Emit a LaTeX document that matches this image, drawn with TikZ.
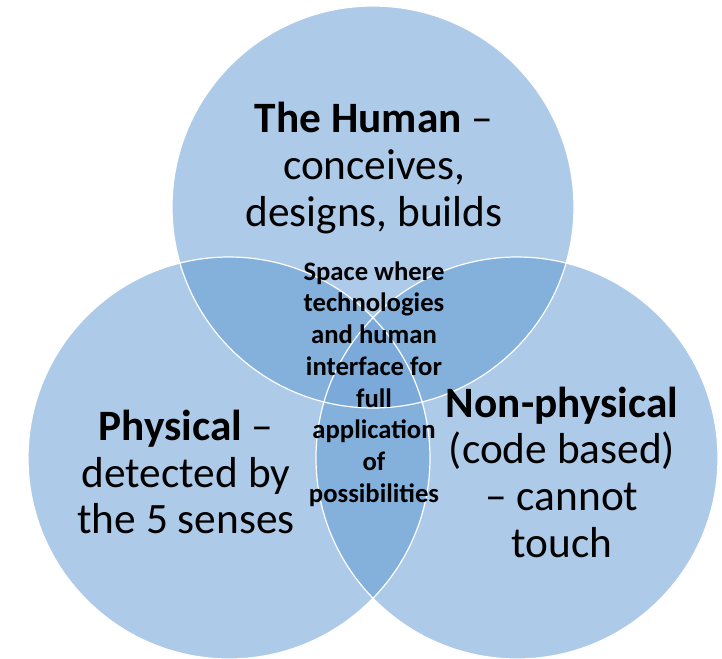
\documentclass[tikz,border=0pt]{standalone}
\usepackage{fontspec}
\setmainfont{Carlito}
\definecolor{vsingle}{HTML}{ADCBE9}
\definecolor{vdouble}{HTML}{84B0DC}
\definecolor{vtriple}{HTML}{7BAADA}
\tikzset{
  maintext/.style={align=center, text=black, font=\fontsize{32.5}{35}\selectfont, inner sep=0pt},
  centertext/.style={align=center, text=black, font=\bfseries\fontsize{20}{23.8}\selectfont, inner sep=0pt},
  rim/.style={draw=white, line width=0.9pt}
}
\begin{document}
\begin{tikzpicture}[x=0.75pt,y=-0.75pt]
\useasboundingbox (0,0) rectangle (722,658);
\coordinate (T) at (373,207);
\coordinate (L) at (229,458);
\coordinate (R) at (517,458);
% single
\fill[vsingle] (T) circle[radius=201];
\fill[vsingle] (L) circle[radius=201];
\fill[vsingle] (R) circle[radius=201];
% doubles
\begin{scope}
  \clip (T) circle[radius=201];
  \fill[vdouble] (L) circle[radius=201];
  \fill[vdouble] (R) circle[radius=201];
\end{scope}
\begin{scope}
  \clip (L) circle[radius=201];
  \fill[vdouble] (R) circle[radius=201];
\end{scope}
% triple
\begin{scope}
  \clip (T) circle[radius=201];
  \clip (L) circle[radius=201];
  \fill[vtriple] (R) circle[radius=201];
\end{scope}
% rims
\draw[rim] (T) circle[radius=201];
\draw[rim] (L) circle[radius=201];
\draw[rim] (R) circle[radius=201];
% texts
\node[maintext] (human) at (374,168) {\textbf{The Human} –\\conceives,\\designs, builds};
\node[maintext] (phys) at (186,472) {\textbf{Physical} –\\detected by\\the 5 senses};
\node[maintext] (nonphys) at (562,472) {\textbf{Non-physical}\\(code based)\\– cannot\\touch};
\node[centertext] (space) at (374,384) {Space where\\technologies\\and human\\interface for\\full\\application\\of\\possibilities};
\end{tikzpicture}
\end{document}
